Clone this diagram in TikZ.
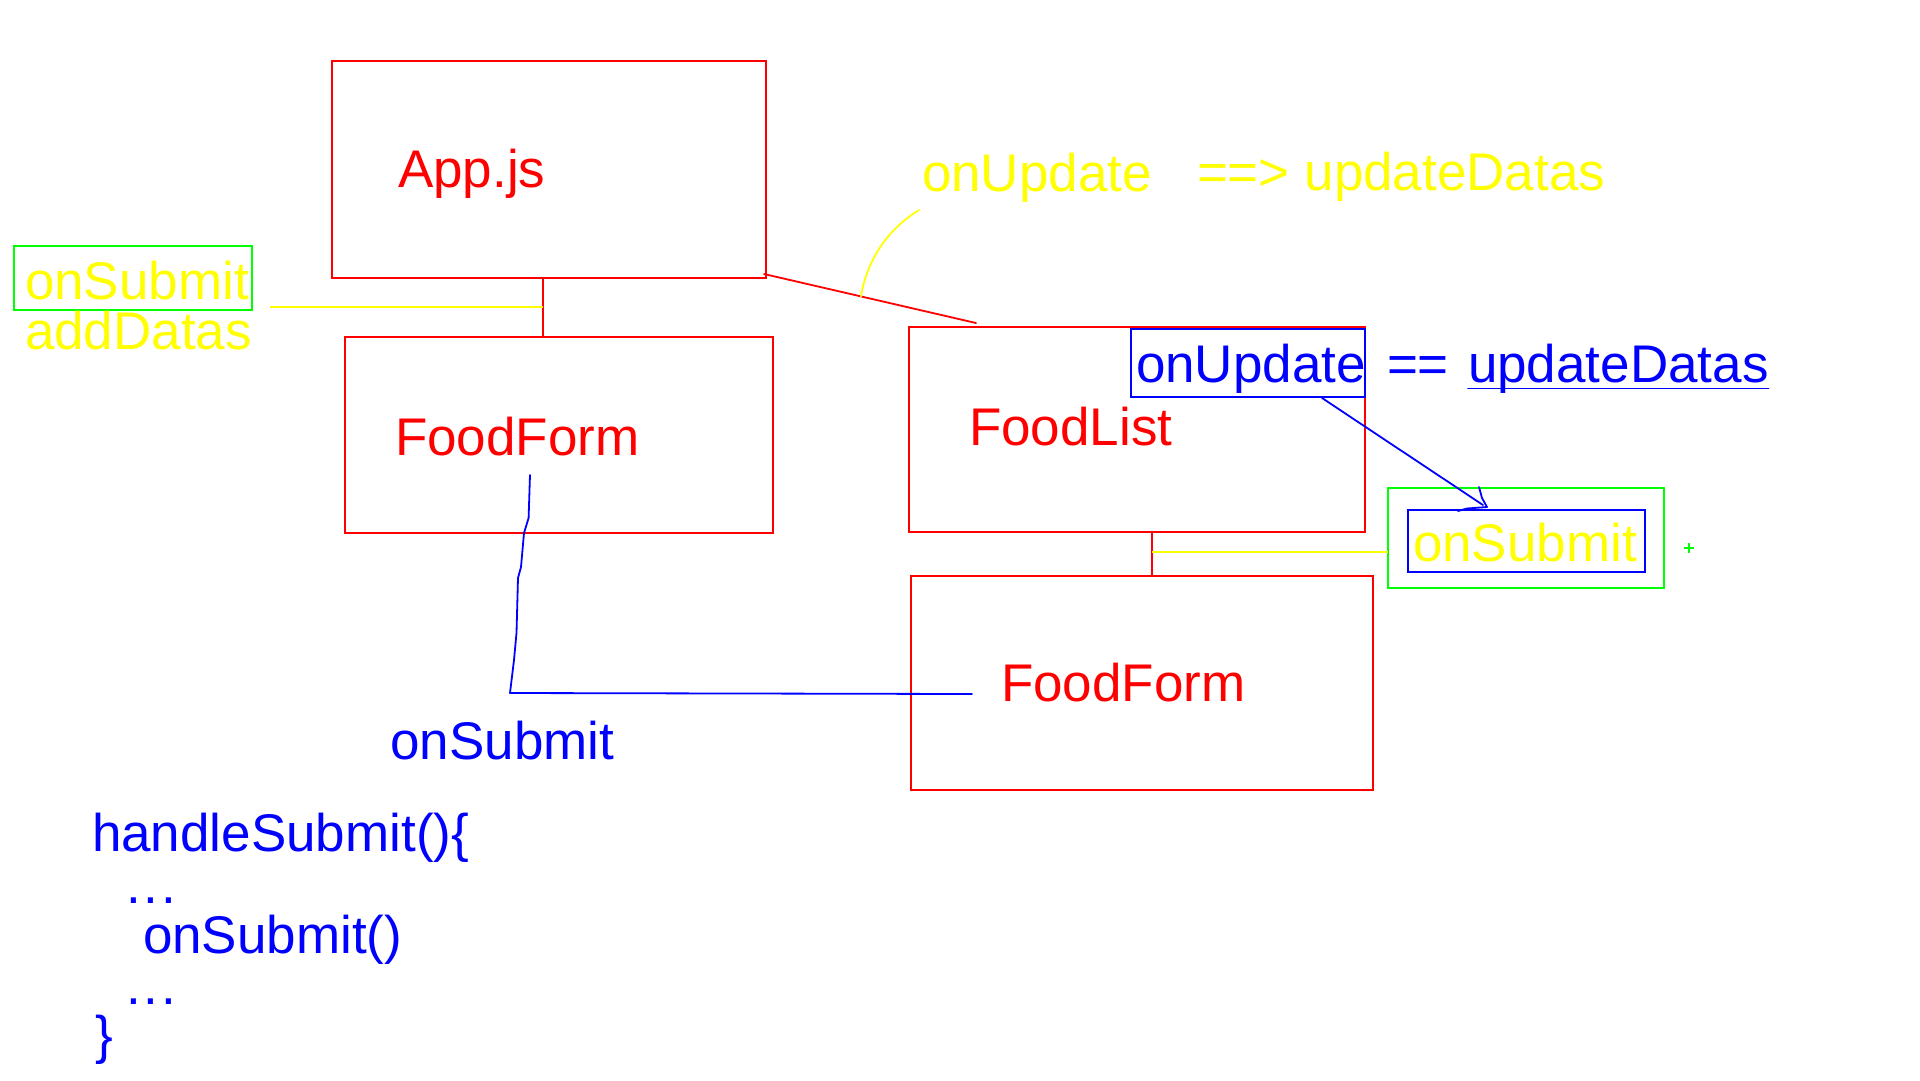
\documentclass[tikz,border=0pt]{standalone}
\usepackage{fontspec}
\setmainfont{Liberation Sans}
\definecolor{pred}{RGB}{255,0,0}
\definecolor{pyel}{RGB}{255,255,0}
\definecolor{pgrn}{RGB}{0,255,0}
\definecolor{pblu}{RGB}{0,0,255}
\begin{document}
\begin{tikzpicture}[x=1pt,y=-1pt,
  box/.style={draw, line width=1.8pt, inner sep=0pt, outer sep=0pt},
  txt/.style={anchor=base west, inner sep=0pt, outer sep=0pt, font=\fontsize{53}{60}\selectfont},
  wire/.style={line width=1.8pt, line join=round, line cap=round}]
\fill[white] (0,0) rectangle (1920,1080);
\useasboundingbox (0,0) rectangle (1920,1080);

% boxes
\node[box, pred, minimum width=434, minimum height=217] (app) at (549,169.5) {};
\node[box, pred, minimum width=428, minimum height=196] (ffL) at (559,435) {};
\node[box, pred, minimum width=456, minimum height=205] (flist) at (1137,429.5) {};
\node[box, pred, minimum width=462, minimum height=214] (ffR) at (1142,683) {};
\node[box, pgrn, minimum width=238, minimum height=64] (greenL) at (133,278) {};
\node[box, pblu, minimum width=234, minimum height=68] (blueU) at (1248,363) {};
\node[box, pgrn, minimum width=276, minimum height=100] (greenR) at (1526,538) {};
\node[box, pblu, minimum width=237, minimum height=62] (blueS) at (1526.5,541) {};

% texts
\node[txt, pred] (tApp) at (398,187) {App.js};
\node[txt, pred] (tFFL) at (395,455) {FoodForm};
\node[txt, pred] (tFList) at (969,445) {FoodList};
\node[txt, pred] (tFFR) at (1001,701.5) {FoodForm};
\node[txt, pyel] (tOnSubL) at (25,299) {onSubmit};
\node[txt, pyel] (tAdd) at (25,349) {addDatas};
\node[txt, pyel] (tOnUpd) at (922,191) {onUpdate};
\node[txt, pyel] (tArrow) at (1197,190) {==> updateDatas};
\node[txt, pblu] (tOnUpdB) at (1136,382.5) {onUpdate};
\node[txt, pblu] (tEq) at (1387,382.5) {==};
\node[txt, pblu] (tUpdD) at (1468,382.5) {updateDatas};
\node[txt, pyel] (tOnSubR) at (1413,561) {onSubmit};
\node[txt, pblu] (tOnSubB) at (390.5,759) {onSubmit};
\node[txt, pblu] (c1) at (92,851.5) {handleSubmit()\{};
\node[txt, pblu] (c2) at (126,903) {.\hspace{3pt}.\hspace{3pt}.};
\node[txt, pblu] (c3) at (143,953.5) {onSubmit()};
\node[txt, pblu] (c4) at (126,1004.5) {.\hspace{3pt}.\hspace{3pt}.};
\node[txt, pblu] (c5) at (95,1053) {\}};

% underline
\draw[wire, pblu] ([shift={(0,6)}]tUpdD.base west) -- ([shift={(0,6)}]tUpdD.base east);

% App -> FoodForm (left)
\coordinate (j1) at (543,307);
\draw[wire, pred, line cap=butt] (app.south -| j1) -- (ffL.north -| j1);
\draw[wire, pyel, line cap=butt] ([shift={(18,0)}]greenL.east |- j1) -- (j1);

% App -> FoodList
\draw[wire, pred] ([shift={(-2,-4)}]app.south east) -- ([shift={(67,-4)}]flist.north west)
  coordinate[pos=0.457] (hit);
\coordinate (ctop) at ([shift={(-3,19)}]tOnUpd.base west);
\draw[wire, pyel] (hit) .. controls ([shift={(7,-40)}]hit) and ([shift={(-29,18)}]ctop) .. (ctop);

% FoodList -> FoodForm (right)
\coordinate (j2) at (1151.6,552.3);
\draw[wire, pred, line cap=butt] (flist.south -| j2) -- (ffR.north -| j2);
\draw[wire, pyel, line cap=butt] (j2) -- (greenR.west |- j2);

% onUpdate -> onSubmit arrow
\coordinate (aEnd) at ([shift={(-43.5,-5)}]blueS.north);
\draw[wire, pblu] ([shift={(74,1)}]blueU.south) -- (aEnd);
\draw[wire, pblu] (aEnd) ++(-4,-18) -- ++(3,11) -- ++(5,9) -- ++(-20,1.5) -- ++(-9,2.5);

% hand-drawn onSubmit line
\draw[wire, pblu] ([shift={(135,20)}]tFFL.base west) -- (528.6,518) -- (524,533) -- (521,567)
  -- (518,578) -- (516.5,633) -- (514,660) -- (510,693) -- ([shift={(-29,-7.5)}]tFFR.base west);

% green plus
\draw[line width=1.8pt, pgrn] (1684,548.3) -- (1694,548.3) (1688.7,543.3) -- (1688.7,553.3);
\end{tikzpicture}
\end{document}
